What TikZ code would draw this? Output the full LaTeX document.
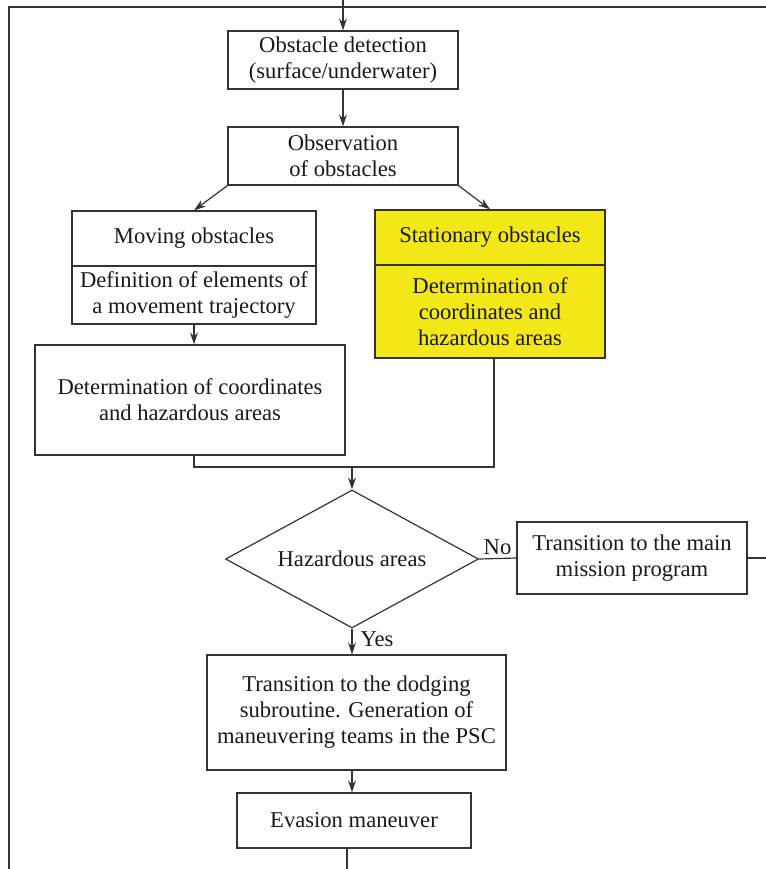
\documentclass[tikz,border=0pt]{standalone}
\usepackage{fontspec}
\setmainfont{Liberation Serif}
\usetikzlibrary{arrows.meta,shapes.geometric}

\definecolor{statyellow}{RGB}{242,232,24}
\def\txtfont{\fontsize{11.3}{13}\selectfont}

\begin{document}
\begin{tikzpicture}[x=0.5pt, y=-0.5pt, line width=0.6pt, draw=black!80,
    >={Stealth[length=6pt,width=4pt]}]
    \tikzstyle{block}=[rectangle, draw=black!80, align=center, inner sep=2pt, font=\txtfont, text=black!90]
    \tikzstyle{decision}=[diamond, aspect=1.83, draw=black!80, align=center, inner sep=0pt, font=\txtfont, text=black!90]
    \tikzstyle{annot}=[font=\txtfont, text=black!90, inner sep=1pt]

    \useasboundingbox (0,0) rectangle (766,869);

    % frame of the enclosing loop
    \coordinate (in) at (343,0);
    \coordinate (frameTL) at (9,7);
    \coordinate (frameBL) at (9,869);
    \coordinate (frameTR) at (766,7);
    \coordinate (out) at (347,869);

    \node[block, minimum width=115pt, minimum height=29pt] (detect) at (343,60)
        {Obstacle detection\\(surface/underwater)};
    \node[block, minimum width=115pt, minimum height=29pt] (observe) at (343,156)
        {Observation\\of obstacles};

    \node[block, minimum width=122pt, minimum height=27.5pt] (moveA) at (194,238.5)
        {Moving obstacles};
    \node[block, minimum width=122pt, minimum height=29pt] (moveB) at (194,295)
        {Definition of elements of\\a movement trajectory};

    \node[block, fill=statyellow, minimum width=115pt, minimum height=27.5pt] (statA) at (490,237.5)
        {Stationary obstacles};
    \node[block, fill=statyellow, minimum width=115pt, minimum height=46.5pt] (statB) at (490,311.5)
        {Determination of\\coordinates and\\hazardous areas};

    \node[block, minimum width=155pt, minimum height=55pt] (coord) at (190,400)
        {Determination of coordinates\\and hazardous areas};

    \node[decision, minimum width=126.5pt, minimum height=69pt] (hazard) at (352,559)
        {Hazardous areas};

    \node[block, minimum width=115pt, minimum height=36pt] (mainprog) at (632,558)
        {Transition to the main\\mission program};

    \node[block, minimum width=149.5pt, minimum height=57.5pt] (dodge) at (356.5,712.5)
        {Transition to the dodging\\subroutine. Generation of\\maneuvering teams in the PSC};

    \node[block, minimum width=117pt, minimum height=27.5pt] (evade) at (354,820.5)
        {Evasion maneuver};

    \coordinate (join) at (352,467);

    \draw (frameBL) -- (frameTL) -- (frameTR);
    \draw[->] (in) -- (detect.north -| in);
    \draw[->] (detect) -- (observe);
    \draw[->] (observe.south west) -- (moveA.north);
    \draw[->] (observe.south east) -- (statA.north);
    \draw[->] (moveB.south) -- (moveB.south |- coord.north);
    \draw (coord.south -| moveB.south) |- (join);
    \draw (statB.south -| 494,0) |- (join);
    \draw[->] (join) -- (hazard.north);
    \draw (hazard.east) -- (mainprog.west);
    \draw (mainprog.east) -- (mainprog.east -| frameTR);
    \draw[->] (hazard.south) -- (dodge.north -| hazard.south);
    \draw[->] (dodge.south -| hazard.south) -- (evade.north -| hazard.south);
    \draw (evade.south -| out) -- (out);

    \node[annot, anchor=south west] (no) at ([xshift=1pt,yshift=1pt]hazard.east) {No};
    \node[annot, anchor=north west] (yes) at ([xshift=3pt]hazard.south) {Yes};
\end{tikzpicture}
\end{document}
